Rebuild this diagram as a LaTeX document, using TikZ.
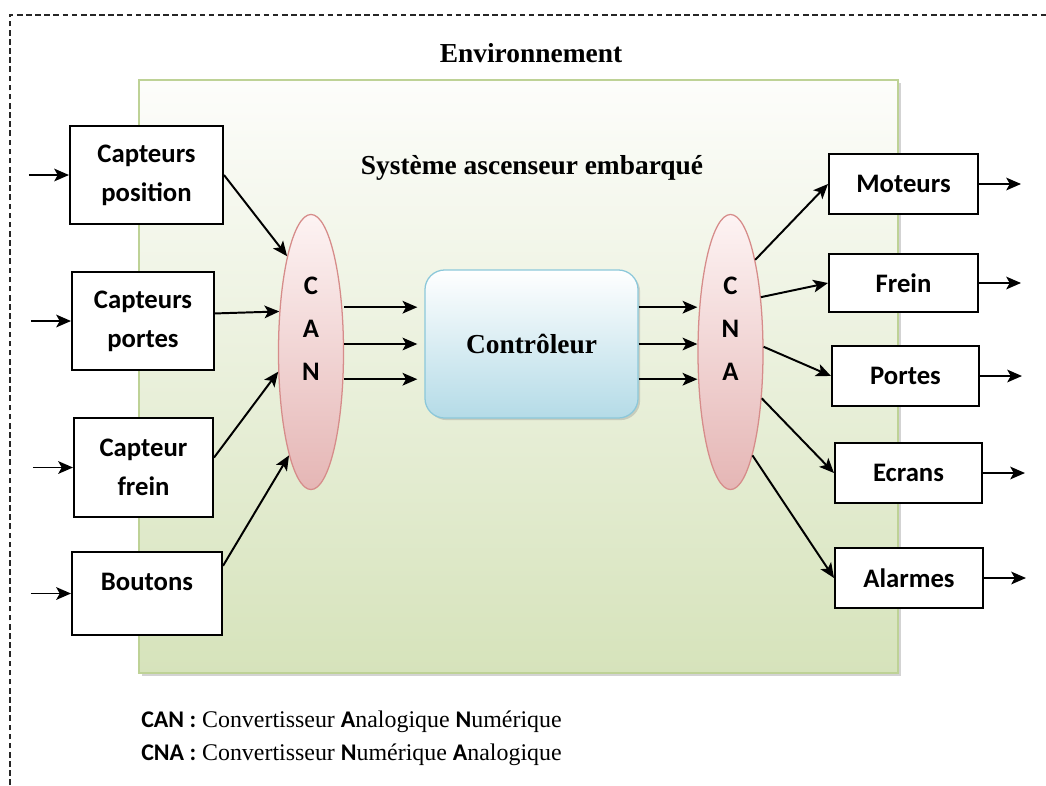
\documentclass[tikz,border=0pt]{standalone}
\usepackage{fontspec}
\setmainfont{Liberation Serif}
\setsansfont{Carlito}
\usepackage{xcolor}
\usepackage{tikz}
\definecolor{envgreen}{RGB}{214,227,187}
\definecolor{envgreentop}{RGB}{253,253,251}
\definecolor{envgreenline}{RGB}{190,210,150}
\definecolor{ctrlblue}{RGB}{180,219,231}
\definecolor{ctrlblueline}{RGB}{140,200,218}
\definecolor{convred}{RGB}{229,182,181}
\definecolor{convredtop}{RGB}{253,243,243}
\definecolor{convredline}{RGB}{214,140,138}
\usetikzlibrary{shadows,arrows.meta,positioning,shapes.geometric}

\begin{document}
\begin{tikzpicture}[x=0.025cm, y=-0.025cm,
    flow/.style={-{Stealth[length=10.5pt,width=9pt,inset=2.5pt]}, line width=1.4pt},
    iobox/.style={draw, line width=1.4pt, fill=white, align=center,
                  font=\sffamily\bfseries\fontsize{19}{27.7}\selectfont},
    conv/.style={ellipse, draw=convredline, line width=0.9pt,
                 top color=convredtop, bottom color=convred,
                 minimum width=1.625cm, minimum height=6.875cm, align=center,
                 font=\sffamily\bfseries\fontsize{19}{30.6}\selectfont, text depth=1.15cm},
    heading/.style={font=\bfseries\fontsize{19.5}{23}\selectfont}]

    \useasboundingbox (0,0) rectangle (1046,785);

    % Environment frame
    \draw[dashed, dash pattern=on 4pt off 2.5pt, line width=1pt, black!85] (10,785) |- (1046,15);
    \node[heading] (env) at (531,53) {Environnement};

    % Embedded system area
    \node[draw=envgreenline, line width=1.4pt, top color=envgreentop, bottom color=envgreen,
          minimum width=18.975cm, minimum height=14.825cm,
          drop shadow={shadow xshift=2pt, shadow yshift=-2pt, opacity=0.35}] (sys) at (518.5,376.5) {};
    \node[heading] (sysname) at (532,168) {Système ascenseur embarqué};

    % Converters and controller
    \node[conv] (can) at (311,352) {C\\A\\N};
    \node[conv] (cna) at (730.5,352) {C\\N\\A};
    \node[draw=ctrlblueline, line width=0.9pt, rounded corners=14pt,
          top color=white, bottom color=ctrlblue,
          minimum width=5.325cm, minimum height=3.7cm,
          drop shadow={shadow xshift=1.5pt, shadow yshift=-1.5pt, opacity=0.3}, heading] (ctrl) at (531.5,344) {Contrôleur};

    % Sensors
    \node[iobox, minimum width=3.825cm, minimum height=2.45cm] (cpos) at (146.5,175) {Capteurs\\position};
    \node[iobox, minimum width=3.55cm, minimum height=2.45cm] (cport) at (143,321) {Capteurs\\portes};
    \node[iobox, minimum width=3.475cm, minimum height=2.475cm] (cfrein) at (143.5,467.5) {Capteur\\frein};
    \node[iobox, minimum width=3.75cm, minimum height=2.075cm, text depth=0.58cm] (btn) at (147,593.5) {Boutons};

    % Actuators
    \node[iobox, minimum width=3.725cm, minimum height=1.5cm] (moteurs) at (903.5,184) {Moteurs};
    \node[iobox, minimum width=3.725cm, minimum height=1.45cm] (frein) at (903.5,283) {Frein};
    \node[iobox, minimum width=3.675cm, minimum height=1.5cm] (portes) at (905.5,376) {Portes};
    \node[iobox, minimum width=3.675cm, minimum height=1.5cm] (ecrans) at (908.5,473) {Ecrans};
    \node[iobox, minimum width=3.7cm, minimum height=1.5cm] (alarmes) at (909,578) {Alarmes};

    % Inputs from the environment
    \foreach \n in {cpos,cport,cfrein,btn} {
        \coordinate[left=1cm of \n] (\n-in);
        \draw[flow] (\n-in) -- (\n);
    }
    % Outputs to the environment
    \foreach \n in {moteurs,frein,portes,ecrans,alarmes} {
        \coordinate[right=1.05cm of \n] (\n-out);
        \draw[flow] (\n) -- (\n-out);
    }

    % Sensors to CAN
    \draw[flow] (cpos.east) -- (can.104);
    \draw[flow] (cport.6) -- (can.128);
    \draw[flow] (cfrein.8) -- (can.211);
    \draw[flow] (btn.20) -- (can.258);

    % CAN -> controller -> CNA
    \foreach \dy in {0.92,0,-0.88} {
        \draw[flow, shorten >=5pt] ([yshift=\dy cm]can.east |- ctrl.west) -- ([yshift=\dy cm]ctrl.west);
        \draw[flow] ([yshift=\dy cm]ctrl.east) -- ([yshift=\dy cm]cna.west |- ctrl.east);
    }

    % CNA to actuators
    \draw[flow] (cna.75) -- (moteurs.west);
    \draw[flow] (cna.61) -- (frein.west);
    \draw[flow] (cna.9) -- (portes.west);
    \draw[flow] (cna.-56) -- (ecrans.west);
    \draw[flow] (cna.-78) -- (alarmes.west);

    % Legend
    \node[anchor=west, inner sep=0pt, font=\fontsize{17}{21}\selectfont] (legcan) at (141,722)
        {\textsf{\bfseries CAN :} Convertisseur \textsf{\bfseries A}nalogique \textsf{\bfseries N}umérique};
    \node[anchor=west, inner sep=0pt, font=\fontsize{17}{21}\selectfont] (legcna) at (141,755)
        {\textsf{\bfseries CNA :} Convertisseur \textsf{\bfseries N}umérique \textsf{\bfseries A}nalogique};
\end{tikzpicture}
\end{document}
